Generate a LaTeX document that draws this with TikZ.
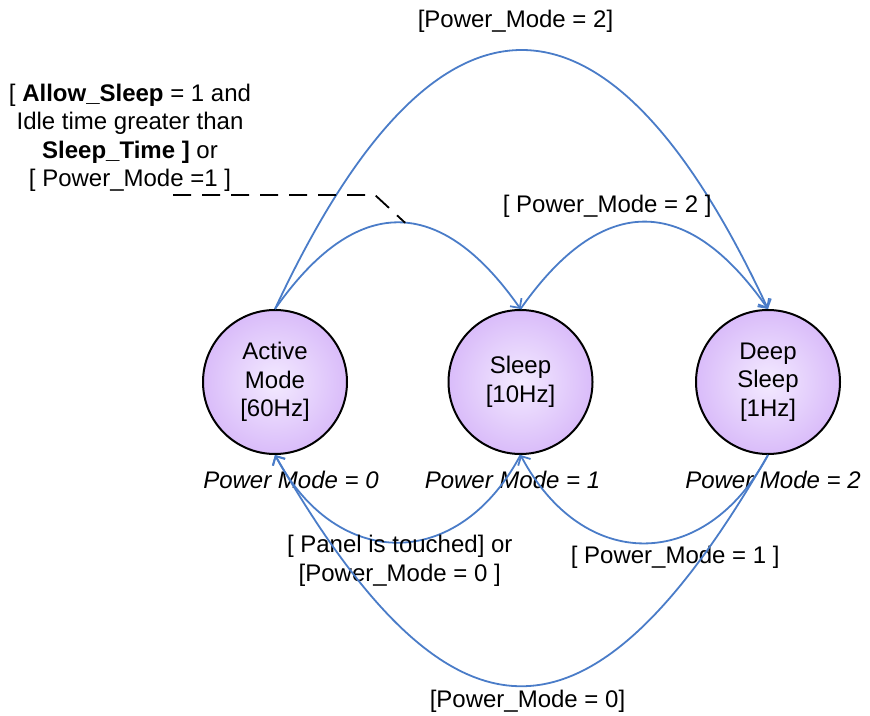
\documentclass[tikz,border=0pt]{standalone}
\usepackage{fontspec}
\setmainfont{Liberation Sans}
\usepackage{xcolor}
\usepackage{tikz}
\usetikzlibrary{arrows.meta,positioning}
\definecolor{arcblue}{HTML}{4A7CC8}
\definecolor{stedge}{HTML}{C08EF4}
\definecolor{stcore}{HTML}{F3EAFF}
\pgfdeclareradialshading{statefill}{\pgfpoint{0bp}{0bp}}{color(0bp)=(stcore); color(50bp)=(stedge); color(100bp)=(stedge)}
\newcommand{\bigfont}{\fontsize{24}{28.5}\selectfont}
\tikzset{
  state/.style={circle, draw=black, line width=2pt, shading=statefill, minimum size=144pt,
                inner sep=0pt, align=center, font=\bigfont},
  pmlbl/.style={font=\bigfont\itshape, inner sep=0pt},
  lbl/.style={font=\bigfont, inner sep=0pt, align=center},
  trans/.style={-{Straight Barb[length=7pt,width=14pt]}, draw=arcblue, line width=1.8pt},
  note/.style={draw=black, line width=1.8pt, dash pattern=on 18pt off 11pt}
}
\begin{document}
\begin{tikzpicture}[x=1pt, y=1pt]
 \useasboundingbox (0,0) rectangle (870,715);
 \node[state] (act) at (275,333) {Active\\Mode\\{[60Hz]}};
 \node[state, right=99.5pt of act] (slp) {Sleep\\{[10Hz]}};
 \node[state, right=101.5pt of slp] (dp) {Deep\\Sleep\\{[1Hz]}};
 \node[pmlbl, below=16pt of act, xshift=16pt] (pm0) {Power Mode = 0};
 \node[pmlbl, below=16pt of slp, xshift=-8pt] (pm1) {Power Mode = 1};
 \node[pmlbl, below=16pt of dp, xshift=5pt] (pm2) {Power Mode = 2};
 \node[lbl] (cond) at (130,577) {[ \textbf{Allow\_Sleep} = 1 and\\Idle time greater than\\\textbf{Sleep\_Time ]} or\\{[ Power\_Mode =1 ]}};
 % transitions above
 \draw[trans] (act.north) to[out=55,in=125,looseness=1.47] coordinate[pos=0.53] (pk) (slp.north);
 \draw[trans] (act.north) to[out=65,in=115,looseness=1.98] node[lbl, pos=0.5, xshift=-6pt, yshift=28.5pt] (l02) {[Power\_Mode = 2]} (dp.north);
 \draw[trans] (slp.north) to[out=55,in=125,looseness=1.47] node[lbl, pos=0.5, xshift=-37pt, yshift=16pt] (l12) {[ Power\_Mode = 2 ]} (dp.north);
 % transitions below
 \draw[trans] (slp.south) to[out=-118,in=-62,looseness=1.38] node[lbl, pos=0.5, xshift=2pt, yshift=-18.5pt] (l10) {[ Panel is touched] or\\{[Power\_Mode = 0 ]}} (act.south);
 \draw[trans] (dp.south) to[out=-118,in=-62,looseness=1.38] node[lbl, pos=0.5, xshift=31pt, yshift=-14pt] (l21) {[ Power\_Mode = 1 ]} (slp.south);
 \draw[trans] (dp.south) to[out=-120,in=-60,looseness=1.85] node[lbl, pos=0.5, xshift=6pt, yshift=-15pt] (l20) {[Power\_Mode = 0]} (act.south);
 % callout
 \coordinate (nstart) at (173,520);
 \draw[note] (nstart) -- ++(202,0) -- (pk);
\end{tikzpicture}
\end{document}
